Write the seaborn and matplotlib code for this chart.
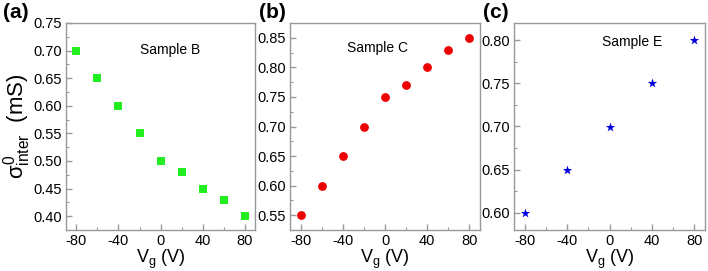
import matplotlib
matplotlib.use('Agg')
import matplotlib.pyplot as plt
from matplotlib.ticker import MultipleLocator, FormatStrFormatter
import seaborn as sns
import pandas as pd

# datos de las tres muestras
vg_bc = [-80, -60, -40, -20, 0, 20, 40, 60, 80]
sigma_b = [0.70, 0.65, 0.60, 0.55, 0.50, 0.48, 0.45, 0.43, 0.40]
sigma_c = [0.55, 0.60, 0.65, 0.70, 0.75, 0.77, 0.80, 0.83, 0.85]
vg_e = [-80, -40, 0, 40, 80]
sigma_e = [0.60, 0.65, 0.70, 0.75, 0.80]

sns.set_style('white')
plt.rcParams['font.family'] = ['Liberation Sans', 'DejaVu Sans']
plt.rcParams['mathtext.fontset'] = 'custom'
plt.rcParams['mathtext.rm'] = 'Liberation Sans'
plt.rcParams['mathtext.it'] = 'Liberation Sans'
plt.rcParams['axes.unicode_minus'] = False
plt.rcParams['text.color'] = 'black'
plt.rcParams['axes.labelcolor'] = 'black'
plt.rcParams['xtick.color'] = 'black'
plt.rcParams['ytick.color'] = 'black'

fig = plt.figure(figsize=(7.08, 2.71), dpi=100)
W, H = 708, 271
boxes = [(66, 255), (290, 480), (514, 705)]
top, bottom = 23, 230
etiq_x = [3, 259, 483]

paneles = [
    ('(a)', 'Sample B', pd.DataFrame({'Vg': vg_bc, 's': sigma_b}), 's', '#22ee22', 30, (0.375, 0.75), (0.55, 0.87)),
    ('(b)', 'Sample C', pd.DataFrame({'Vg': vg_bc, 's': sigma_c}), 'o', '#ee0000', 40, (0.525, 0.875), (0.46, 0.88)),
    ('(c)', 'Sample E', pd.DataFrame({'Vg': vg_e, 's': sigma_e}), '*', '#0000dd', 50, (0.58, 0.82), (0.62, 0.91)),
]

for (x0, x1), lx, (lab, name, df, mk, col, sz, ylim, tpos) in zip(boxes, etiq_x, paneles):
    ax = fig.add_axes([x0 / W, 1 - bottom / H, (x1 - x0) / W, (bottom - top) / H])
    sns.scatterplot(data=df, x='Vg', y='s', ax=ax, marker=mk, color=col, s=sz,
                    edgecolor=col, linewidth=0)
    ax.set_xlim(-90, 90)
    ax.set_ylim(*ylim)
    ax.xaxis.set_major_locator(MultipleLocator(40))
    ax.xaxis.set_minor_locator(MultipleLocator(20))
    ax.yaxis.set_major_locator(MultipleLocator(0.05))
    ax.yaxis.set_minor_locator(MultipleLocator(0.025))
    ax.yaxis.set_major_formatter(FormatStrFormatter('%.2f'))
    ax.tick_params(which='both', direction='in', color='#999999', labelcolor='black',
                   labelsize=10.5, bottom=True, left=True, top=False, right=False)
    ax.tick_params(which='major', length=4, width=1, pad=3)
    ax.tick_params(which='minor', length=2.5, width=0.8)
    for sp in ax.spines.values():
        sp.set_color('#999999')
        sp.set_linewidth(1)
    ax.set_xlabel(r'V$_\mathrm{g}$ (V)', fontsize=13, labelpad=0)
    ax.set_ylabel('')
    ax.text(tpos[0], tpos[1], name, transform=ax.transAxes, ha='center', va='center', fontsize=10)
    fig.text(lx / W, 1 - 13 / H, lab, fontsize=15, fontweight='bold', ha='left', va='center')
    if lab == '(a)':
        ax.set_ylabel(r'$\sigma^{0}_{\mathrm{inter}}$  (mS)', fontsize=16, labelpad=0)

fig.savefig('out.png', dpi=100)
